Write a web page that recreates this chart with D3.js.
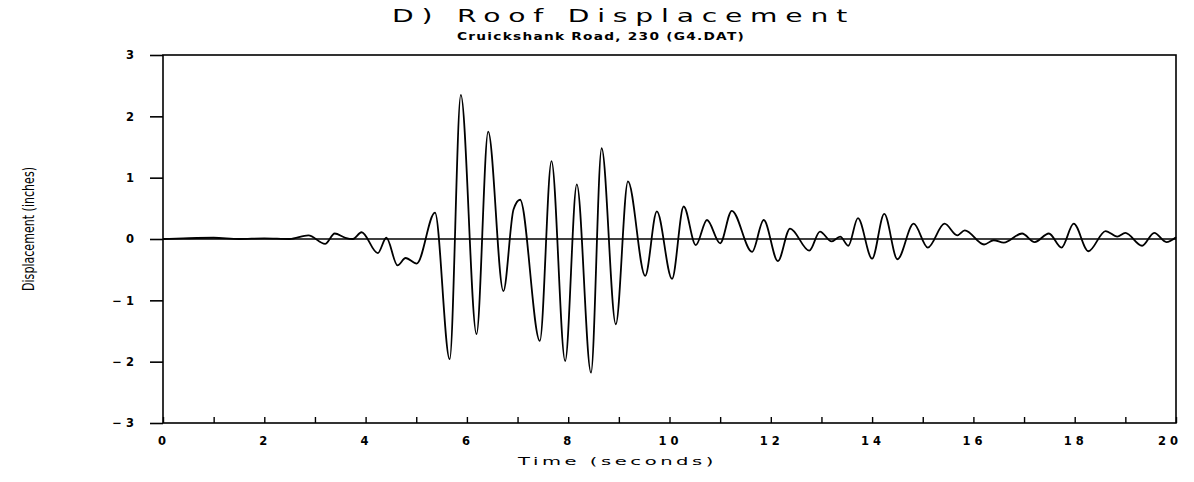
<!DOCTYPE html>
<html>
<head>
<meta charset="utf-8">
<script src="https://cdn.jsdelivr.net/npm/d3@7"></script>
<style>
  body { margin: 0; background: #fff; }
  svg { display: block; }
  .tick-label { font-family: "DejaVu Sans", sans-serif; font-weight: bold; font-size: 11.5px; fill: #000; }
</style>
</head>
<body>
<svg id="chart" width="1194" height="482"></svg>
<script>
// peaks, troughs and a few in-between points
var times = [0, 0.4, 1.0, 1.5, 2.0, 2.5, 2.87, 3.2, 3.39, 3.6, 3.75, 3.92, 4.24, 4.41, 4.63, 4.79, 5.01,
  5.37, 5.66, 5.88, 6.19, 6.42, 6.72, 6.92, 7.05, 7.44, 7.67, 7.94, 8.17, 8.45, 8.66, 8.94, 9.18,
  9.52, 9.75, 10.05, 10.28, 10.52, 10.74, 11.0, 11.23, 11.63, 11.86, 12.14, 12.38, 12.76, 12.97,
  13.2, 13.37, 13.53, 13.72, 14.0, 14.24, 14.5, 14.82, 15.1, 15.43, 15.68, 15.83, 16.21, 16.4, 16.6,
  16.96, 17.21, 17.49, 17.74, 17.98, 18.27, 18.61, 18.84, 19.0, 19.33, 19.57, 19.81, 20];
var displacement = [0, 0.01, 0.02, 0.0, 0.01, 0.0, 0.06, -0.08, 0.09, 0.02, 0.0, 0.11, -0.23, 0.02, -0.43, -0.31, -0.40,
  0.43, -1.96, 2.35, -1.55, 1.75, -0.85, 0.48, 0.64, -1.66, 1.27, -1.99, 0.89, -2.18, 1.48, -1.39, 0.94,
  -0.60, 0.45, -0.65, 0.53, -0.10, 0.31, -0.07, 0.46, -0.21, 0.31, -0.36, 0.17, -0.19, 0.12,
  -0.04, 0.04, -0.11, 0.34, -0.32, 0.41, -0.33, 0.25, -0.14, 0.25, 0.06, 0.14, -0.09, -0.02, -0.06,
  0.09, -0.05, 0.09, -0.14, 0.25, -0.20, 0.13, 0.04, 0.10, -0.11, 0.10, -0.05, 0.03];
var xTicks = [0, 2, 4, 6, 8, 10, 12, 14, 16, 18, 20];
var yTicks = [-3, -2, -1, 0, 1, 2, 3];

var svg = d3.select("#chart"),
    margin = {top: 55, right: 18, bottom: 59, left: 163},
    width = +svg.attr("width") - margin.left - margin.right,
    height = +svg.attr("height") - margin.top - margin.bottom,
    g = svg.append("g").attr("transform", "translate(" + margin.left + "," + margin.top + ")");

var x = d3.scaleLinear().domain([0, 20]).range([0, width]);
var y = d3.scaleLinear().domain([-3, 3]).range([height, 0]);

// frame
g.append("rect")
    .attr("width", width)
    .attr("height", height)
    .attr("fill", "none")
    .attr("stroke", "#000")
    .attr("stroke-width", 1.6);

// y axis, ticks outside
var yAxis = g.append("g")
    .call(d3.axisLeft(y).tickValues(yTicks).tickSize(13).tickPadding(16)
      .tickFormat(function(d) { return d < 0 ? "\u2212 " + Math.abs(d) : d; }));
yAxis.select(".domain").remove();
yAxis.selectAll("line").attr("stroke-width", 1.6);
yAxis.selectAll("text").attr("class", "tick-label").attr("font-size", null).attr("font-family", null);

// x axis, every second ticked inside
var xAxis = g.append("g")
    .attr("transform", "translate(0," + height + ")")
    .call(d3.axisBottom(x).ticks(20).tickSize(-6).tickFormat(""));
xAxis.select(".domain").remove();
xAxis.selectAll("line").attr("stroke-width", 1.4);

g.append("g")
    .selectAll("text")
    .data(xTicks)
    .enter().append("text")
      .attr("class", "tick-label")
      .attr("x", function(d) { return d == 20 ? x(d) - 6 : x(d) + 1; })
      .attr("y", height + 22)
      .attr("text-anchor", "middle")
      .attr("letter-spacing", "4px")
      .text(function(d) { return d; });

// zero line
g.append("line")
    .attr("x1", 0)
    .attr("x2", width)
    .attr("y1", y(0))
    .attr("y2", y(0))
    .attr("stroke", "#000")
    .attr("stroke-width", 1.4);

var line = d3.line()
    .x(function(d, i) { return x(times[i]); })
    .y(function(d) { return y(d); })
    .curve(d3.curveMonotoneX);

g.append("path")
    .datum(displacement)
    .attr("fill", "none")
    .attr("stroke", "#000")
    .attr("stroke-width", 1.8)
    .attr("d", line);

// titles, stretched to mimic the wide plotter lettering
svg.append("text")
    .attr("x", 392)
    .attr("y", 22)
    .attr("font-family", "DejaVu Sans, sans-serif")
    .attr("font-size", 18)
    .attr("letter-spacing", "5px")
    .attr("textLength", 463)
    .attr("lengthAdjust", "spacingAndGlyphs")
    .text("D) Roof Displacement");

svg.append("text")
    .attr("x", 457)
    .attr("y", 40)
    .attr("font-family", "DejaVu Sans, sans-serif")
    .attr("font-weight", "bold")
    .attr("font-size", 11)
    .attr("letter-spacing", "1px")
    .attr("textLength", 288)
    .attr("lengthAdjust", "spacingAndGlyphs")
    .text("Cruickshank Road, 230 (G4.DAT)");

svg.append("text")
    .attr("x", 518)
    .attr("y", 465)
    .attr("font-family", "DejaVu Sans, sans-serif")
    .attr("font-size", 11)
    .attr("letter-spacing", "2px")
    .attr("textLength", 199)
    .attr("lengthAdjust", "spacingAndGlyphs")
    .text("Time (seconds)");

svg.append("text")
    .attr("transform", "translate(34,229) rotate(-90)")
    .attr("text-anchor", "middle")
    .attr("font-family", "Liberation Sans Narrow, DejaVu Sans Condensed, sans-serif")
    .attr("font-size", 15)
    .attr("textLength", 124)
    .attr("lengthAdjust", "spacingAndGlyphs")
    .text("Displacement (inches)");
</script>
</body>
</html>
